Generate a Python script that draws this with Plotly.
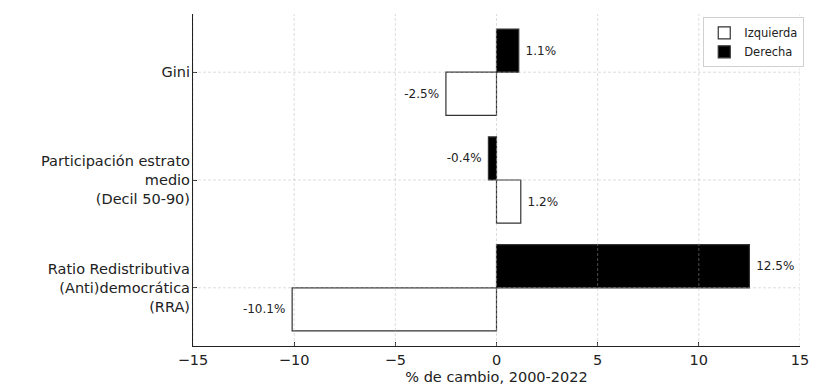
import plotly.graph_objects as go

categories = ["Ratio Redistributiva<br>(Anti)democrática<br>(RRA)",
              "Participación estrato<br>medio<br>(Decil 50-90)",
              "Gini"]
izquierda = [-10.1, 1.2, -2.5]
derecha = [12.5, -0.4, 1.1]
x_ticks = [-15, -10, -5, 0, 5, 10, 15]

FONT = "DejaVu Sans"
AX = 14.5


def lab(v):
    # pad the label away from the bar end, like the reference
    return f" {v:.1f}%" if v >= 0 else f"{v:.1f}% "


fig = go.Figure()
fig.add_trace(go.Bar(
    name="Izquierda", y=categories, x=izquierda, orientation="h",
    marker=dict(color="white", line=dict(color="#333333", width=1.2)),
    text=[lab(v) for v in izquierda], textposition="outside",
    textfont=dict(family=FONT, size=12, color="#222222"), cliponaxis=False,
))
fig.add_trace(go.Bar(
    name="Derecha", y=categories, x=derecha, orientation="h",
    marker=dict(color="black", line=dict(color="#333333", width=1.2)),
    text=[lab(v) for v in derecha], textposition="outside",
    textfont=dict(family=FONT, size=12, color="#222222"), cliponaxis=False,
))

grid = dict(color="rgba(176,176,176,0.55)", width=0.8, dash="3px,2px")
for xv in x_ticks:
    fig.add_shape(type="line", xref="x", yref="paper", x0=xv, x1=xv, y0=0, y1=1,
                  line=grid, layer="above")
for c in categories:
    fig.add_shape(type="line", xref="paper", yref="y", x0=0, x1=1, y0=c, y1=c,
                  line=grid, layer="above")

fig.update_layout(
    width=830, height=389,
    margin=dict(l=185, r=38, t=6, b=51),
    paper_bgcolor="white", plot_bgcolor="white",
    barmode="group", bargap=0.2, bargroupgap=0,
    font=dict(family=FONT, size=12, color="#222222"),
    showlegend=True,
    legend=dict(x=1.007, y=0.99, xanchor="right", yanchor="top",
                bordercolor="#d0d0d0", borderwidth=1, bgcolor="white",
                font=dict(family=FONT, size=11.5, color="#222222"),
                tracegroupgap=2),
)
fig.update_xaxes(
    range=[-15, 15], tickvals=x_ticks, ticktext=[("−" if v < 0 else "") + str(abs(v)) for v in x_ticks],
    showgrid=False, zeroline=False,
    showline=True, linecolor="#222222", linewidth=1.2,
    ticks="inside", ticklen=4, tickcolor="#222222", tickwidth=1,
    tickfont=dict(family=FONT, size=AX, color="#222222"),
    title=dict(text="% de cambio, 2000-2022", font=dict(family=FONT, size=AX, color="#222222"), standoff=5),
)
fig.update_yaxes(
    type="category", range=[-0.54, 2.54],
    showgrid=False, zeroline=False,
    showline=True, linecolor="#222222", linewidth=1.2,
    ticks="inside", ticklen=4, tickcolor="#222222", tickwidth=1,
    ticklabelstandoff=-1,
    tickfont=dict(family=FONT, size=AX, color="#222222"),
)

fig.write_html("out.html")
